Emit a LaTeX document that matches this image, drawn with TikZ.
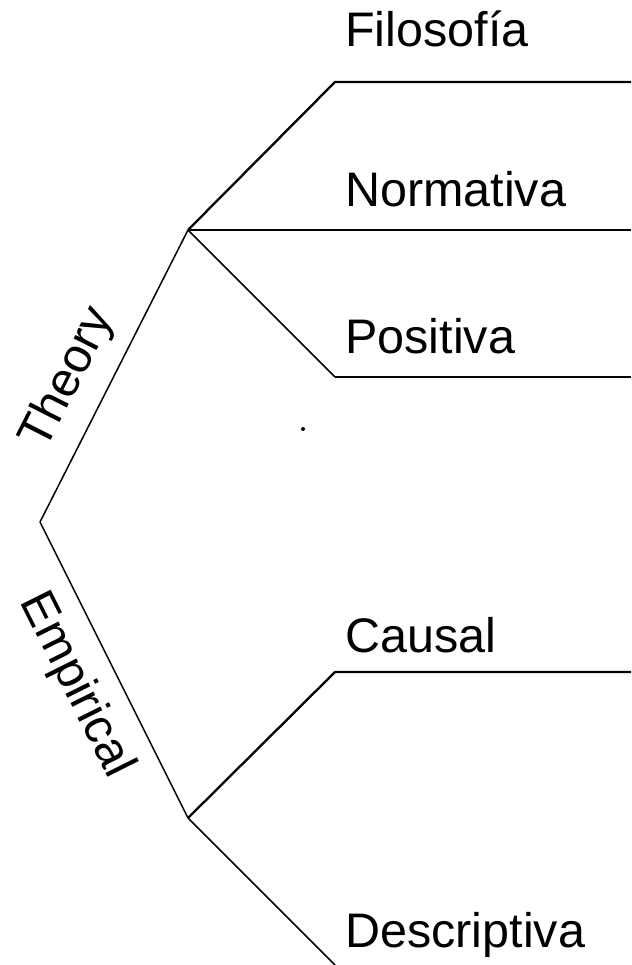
\documentclass[tikz,border=0pt]{standalone}
\usepackage{fontspec}
\setmainfont{Liberation Sans}
\usetikzlibrary{positioning}

\begin{document}
\begin{tikzpicture}[
  x=1pt, y=-1pt,
  font=\fontsize{48.5}{56}\selectfont,
  stem/.style ={line width=1.5pt, draw=black},
  limb/.style ={line width=2.3pt, draw=black},
  leaf/.style ={anchor=base west, inner sep=0pt},
  side/.style ={sloped, inner sep=0pt}
]
\useasboundingbox (0,0) rectangle (631,965);

% =================== JUNCTIONS ===================
\coordinate (root)   at (40,522);
\coordinate (theory) at (188,230);
\coordinate (empir)  at (188,818);

% =================== BRANCH ENDS ===================
\coordinate (filoA)  at (335,82);   \coordinate (filoB)  at (631,82);
\coordinate (normB)  at (631,230);
\coordinate (posiA)  at (335,377);  \coordinate (posiB)  at (631,377);
\coordinate (causA)  at (335,672);  \coordinate (causB)  at (631,672);
\coordinate (descA)  at (335,965);

% =================== LABELS ===================
\node[leaf] (filo) at (345,47)  {Filosofía};
\node[leaf] (norm) at (345,207) {Normativa};
\node[leaf] (posi) at (345,353) {Positiva};
\node[leaf] (caus) at (345,652) {Causal};
\node[leaf] (desc) at (345,947) {Descriptiva};

% =================== TRUNK ===================
\draw[stem] (root) -- node[side, above=16pt, pos=0.43]{Theory} (theory);
\draw[stem] (root) -- node[side, below=18pt, pos=0.49]{Empirical} (empir);

% =================== THEORY BRANCHES ===================
\draw[limb] (theory) -- (filoA) -- (filoB);
\draw[limb] (theory) -- (normB);
\draw[stem] (theory) -- (posiA);
\draw[limb] (posiA) -- (posiB);

% =================== EMPIRICAL BRANCHES ===================
\draw[limb] (empir) -- (causA) -- (causB);
\draw[stem] (empir) -- (descA);

% stray dot
\fill (303,429) circle (2);

\end{tikzpicture}
\end{document}
